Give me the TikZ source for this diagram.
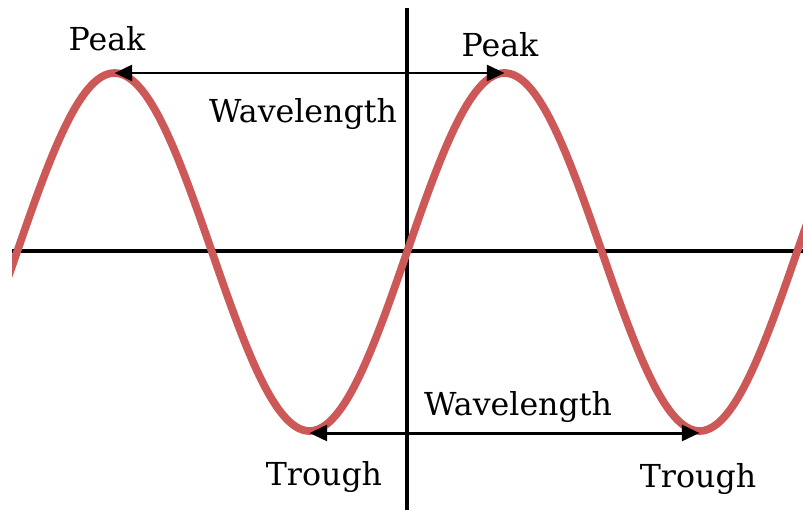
\documentclass[tikz,border=0pt]{standalone}
\usepackage{fontspec}
\setmainfont{DejaVu Serif}
\usetikzlibrary{positioning,arrows.meta}

\definecolor{waveRed}{RGB}{205,88,88}

\begin{document}
\begin{tikzpicture}[
      x=0.02cm, y=-0.02cm,
      every node/.style={font=\fontsize{18}{20}\selectfont, inner sep=0pt},
      axis/.style={draw=black, line width=2.1pt},
      wave/.style={draw=waveRed, line width=4.4pt},
      span/.style={draw=black, line width=1.7pt, {Triangle[length=10pt,width=9pt]}-{Triangle[length=10pt,width=9pt]}},
      lbl/.style={anchor=base}
    ]
      \useasboundingbox (0,0) rectangle (803,510);

      % axes
      \coordinate (xl) at (12,251);
      \coordinate (xr) at (803,251);
      \coordinate (yt) at (407,8);
      \coordinate (yb) at (407,510);
      \draw[axis] (xl) -- (xr);
      \draw[axis] (yt) -- (yb);

      % the wave
      \begin{scope}
        \clip (12,0) rectangle (803,510);
        \draw[wave] plot[domain=8:807, samples=240, smooth] (\x, {252-179*sin(0.923077*(\x-407))});
      \end{scope}

      \coordinate (peakA) at (114.5,73);
      \coordinate (peakB) at (504.5,73);
      \coordinate (troughA) at (309.5,433);
      \coordinate (troughB) at (699.5,433);

      \draw[span] (peakA) -- (peakB);
      \draw[span] (troughA) -- (troughB);

      \node[lbl] (peakLblA) at (107,51) {Peak};
      \node[lbl] (peakLblB) at (500,57) {Peak};
      \node[lbl] (waveLblA) at (303,122) {Wavelength};
      \node[lbl] (waveLblB) at (518,415) {Wavelength};
      \node[lbl] (troughLblA) at (324,485) {Trough};
      \node[lbl] (troughLblB) at (698,487) {Trough};
    \end{tikzpicture}
\end{document}
